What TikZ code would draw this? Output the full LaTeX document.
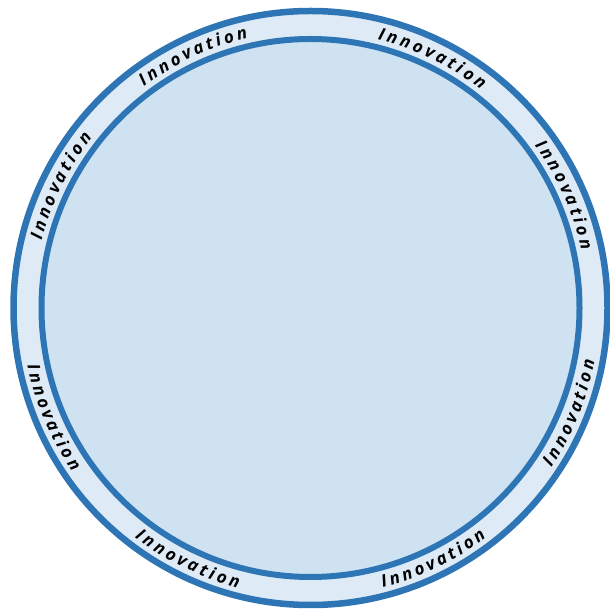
\documentclass[tikz,border=0pt]{standalone}
\usepackage{fontspec}
\newfontfamily\ringfont{Open Sans}
\usepackage{xcolor}
\usetikzlibrary{decorations.text}
\definecolor{ringblue}{RGB}{46,117,182}
\definecolor{ringband}{RGB}{222,235,247}
\definecolor{ringcore}{RGB}{207,226,242}
\newcommand\ringletters{\ringfont\bfseries\itshape\fontsize{17}{17}\selectfont}

\begin{document}
\begin{tikzpicture}[x=1pt,y=1pt,
  ringtext/.style={
    preaction={transform canvas={shift={(0.9,-0.9)}},decorate,
      decoration={text along path,text align={fit to path},text color=black!35,
      text={|\ringletters|Innovation}}},
    decorate,decoration={text along path,text align={fit to path},text color=black,
      text={|\ringletters|Innovation}}}]
  \useasboundingbox (0,0) rectangle (610,616);
  \coordinate (o) at (310.5,308);
  \draw[ringblue,line width=6.5pt,fill=ringband] (o) circle[radius=297pt];
  \draw[ringblue,line width=6pt,fill=ringcore] (o) circle[radius=269pt];
  % upper half, read clockwise
  \path[ringtext] ([shift={(o)}]166:277pt) arc[start angle=166,end angle=142,radius=277pt];
  \path[ringtext] ([shift={(o)}]127:277pt) arc[start angle=127,end angle=103,radius=277pt];
  \path[ringtext] ([shift={(o)}]76:277pt) arc[start angle=76,end angle=52,radius=277pt];
  \path[ringtext] ([shift={(o)}]36:277pt) arc[start angle=36,end angle=12,radius=277pt];
  % lower half, read counterclockwise
  \path[ringtext] ([shift={(o)}]-33.5:289pt) arc[start angle=-33.5,end angle=-10.5,radius=289pt];
  \path[ringtext] ([shift={(o)}]-75.5:289pt) arc[start angle=-75.5,end angle=-52.5,radius=289pt];
  \path[ringtext] ([shift={(o)}]-127.5:289pt) arc[start angle=-127.5,end angle=-104.5,radius=289pt];
  \path[ringtext] ([shift={(o)}]-168.5:289pt) arc[start angle=-168.5,end angle=-145.5,radius=289pt];
\end{tikzpicture}
\end{document}
